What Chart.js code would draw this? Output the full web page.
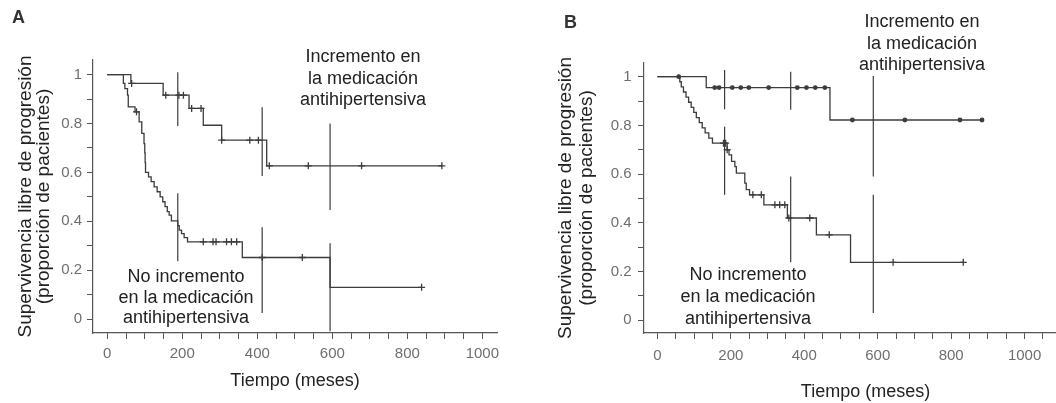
<!DOCTYPE html>
<html>
<head>
<meta charset="utf-8">
<script src="https://cdn.jsdelivr.net/npm/chart.js@4.4.1/dist/chart.umd.min.js"></script>
<style>
  body { margin: 0; width: 1056px; height: 403px; overflow: hidden; position: relative; background: #fff;
         font-family: "Liberation Sans", Arial, Helvetica, sans-serif; color: #222; }
  .panel { position: absolute; top: 0; height: 403px; }
  .lbl { position: absolute; font-weight: bold; font-size: 18px; line-height: 18px; color: #333; }
  .note { position: absolute; width: 220px; text-align: center; font-size: 18px; color: #222; }
</style>
</head>
<body>
<div class="panel" style="left:0;width:528px"><canvas id="chartA"></canvas></div>
<div class="panel" style="left:528px;width:570px"><canvas id="chartB"></canvas></div>

<div class="lbl" style="left:12px;top:8px">A</div>
<div class="lbl" style="left:564px;top:13px">B</div>
<div class="note" style="left:253px;top:46px;line-height:21.5px">Incremento en<br>la medicación<br>antihipertensiva</div>
<div class="note" style="left:76px;top:266px;line-height:20.5px">No incremento<br>en la medicación<br>antihipertensiva</div>
<div class="note" style="left:812px;top:11px;line-height:21.7px">Incremento en<br>la medicación<br>antihipertensiva</div>
<div class="note" style="left:638px;top:263px;line-height:22px">No incremento<br>en la medicación<br>antihipertensiva</div>

<script>
// tick labels shared by both panels
const xTickValues = [0, 200, 400, 600, 800, 1000]
const xTickLabels = ['0', '200', '400', '600', '800', '1000']
const yTickValues = [0, 0.2, 0.4, 0.6, 0.8, 1]
const yTickLabels = ['0', '0.2', '0.4', '0.6', '0.8', '1']

// Panel A - Incremento en la medicación (step times, survival after step, censored times)
const aIncTimes = [0, 63, 149, 218, 256, 305, 425, 892]
const aIncSurv = [1, 0.964, 0.916, 0.862, 0.793, 0.732, 0.627, 0.627]
const aIncCens = [65, 156, 191, 203, 225, 250, 305, 380, 403, 432, 536, 678, 892]

// Panel A - No incremento
const aNoTimes = [0, 43, 47, 54, 56, 74, 85, 92, 98, 100, 101, 102, 110, 117, 125, 133, 141, 148, 154, 160, 165, 171, 188, 192, 198, 205, 214, 360, 594, 838]
const aNoSurv = [1, 0.964, 0.943, 0.916, 0.868, 0.848, 0.807, 0.76, 0.718, 0.68, 0.64, 0.6, 0.582, 0.562, 0.541, 0.521, 0.5, 0.48, 0.46, 0.44, 0.425, 0.402, 0.382, 0.364, 0.35, 0.333, 0.316, 0.252, 0.13, 0.13]
const aNoCens = [78, 256, 282, 290, 318, 331, 345, 413, 520, 838]

// Panel A - vertical interval bars
const aBarTimes = [188, 413, 594]
const aBarIncLow = [0.79, 0.585, 0.446]
const aBarIncHigh = [1.01, 0.867, 0.8]
const aBarNoLow = [0.237, 0.025, -0.05]
const aBarNoHigh = [0.515, 0.376, 0.31]

// Panel B - Incremento
const bIncTimes = [0, 133, 470, 884]
const bIncSurv = [1, 0.955, 0.822, 0.822]
const bIncCens = [58, 156, 168, 204, 227, 249, 303, 381, 406, 430, 456, 531, 674, 824, 884]

// Panel B - No incremento
const bNoTimes = [0, 61, 65, 71, 78, 85, 92, 99, 106, 114, 122, 130, 140, 150, 190, 195, 202, 211, 215, 238, 242, 251, 290, 354, 433, 526, 835]
const bNoSurv = [1, 0.979, 0.958, 0.937, 0.916, 0.895, 0.874, 0.853, 0.832, 0.811, 0.79, 0.769, 0.748, 0.727, 0.7, 0.679, 0.652, 0.631, 0.604, 0.563, 0.536, 0.515, 0.474, 0.42, 0.351, 0.238, 0.238]
const bNoCens = [180, 186, 190, 260, 283, 320, 333, 347, 358, 415, 468, 642, 833]

// Panel B - vertical interval bars
const bBarTimes = [183, 363, 588]
const bBarIncLow = [0.866, 0.864, 0.59]
const bBarIncHigh = [1.027, 1.02, 1.003]
const bBarNoLow = [0.515, 0.238, 0.03]
const bBarNoHigh = [0.795, 0.59, 0.515]

const ink = '#3c3c3c'
Chart.defaults.font.family = '"Liberation Sans", Arial, Helvetica, sans-serif'

function steps(times, surv) {
  return times.map((t, i) => ({ x: t, y: surv[i] }))
}

function survAt(times, surv, t) {
  let s = surv[0]
  for (let i = 0; i < times.length; i++) {
    if (times[i] <= t) s = surv[i]
  }
  return s
}

function censored(times, surv, cens) {
  return cens.map(t => ({ x: t, y: survAt(times, surv, t) }))
}

function barSets(times, low, high) {
  return times.map((t, i) => ({
    data: [{ x: t, y: low[i] }, { x: t, y: high[i] }],
    borderColor: ink, borderWidth: 1.2, pointRadius: 0
  }))
}

function makeChart(id, p) {
  const datasets = [
    { data: steps(p.incTimes, p.incSurv), stepped: true, borderColor: ink, borderWidth: 1.3, pointRadius: 0 },
    { data: steps(p.noTimes, p.noSurv), stepped: true, borderColor: ink, borderWidth: 1.3, pointRadius: 0 },
    { data: censored(p.incTimes, p.incSurv, p.incCens), showLine: false, pointStyle: p.incMark, pointRadius: p.incMarkR,
      borderColor: ink, backgroundColor: ink, borderWidth: 1.3 },
    { data: censored(p.noTimes, p.noSurv, p.noCens), showLine: false, pointStyle: 'cross', pointRadius: 3.5,
      borderColor: ink, borderWidth: 1.3 }
  ].concat(barSets(p.barTimes, p.barIncLow, p.barIncHigh), barSets(p.barTimes, p.barNoLow, p.barNoHigh))

  return new Chart(document.getElementById(id), {
    type: 'line',
    data: { datasets: datasets },
    options: {
      responsive: true,
      maintainAspectRatio: false,
      animation: false,
      layout: { padding: p.padding },
      plugins: { legend: { display: false }, tooltip: { enabled: false } },
      scales: {
        x: {
          type: 'linear',
          min: p.xMin,
          max: p.xMax,
          afterFit: s => { s.height = 70 },
          border: { color: '#555', width: 1.2 },
          grid: { drawOnChartArea: false, tickLength: 6, tickColor: '#555' },
          ticks: {
            stepSize: 50, includeBounds: false, autoSkip: false, maxRotation: 0,
            padding: p.xTickPad, color: '#6e6e6e', font: { size: 15 },
            callback: v => {
              const i = xTickValues.indexOf(v)
              return i >= 0 ? xTickLabels[i] : ''
            }
          },
          title: {
            display: true, text: 'Tiempo (meses)', color: '#222',
            font: { size: 18 }, padding: { top: 0, bottom: p.xTitlePad }
          }
        },
        y: {
          type: 'linear',
          min: p.yMin,
          max: p.yMax,
          afterFit: s => { s.width = p.yWidth },
          border: { color: '#555', width: 1.2 },
          grid: { drawOnChartArea: false, tickLength: 6, tickColor: '#555' },
          ticks: {
            stepSize: 0.1, includeBounds: false, autoSkip: false,
            padding: p.yTickPad, color: '#6e6e6e', font: { size: 15 },
            callback: v => {
              const i = yTickValues.indexOf(Math.round(v * 10) / 10)
              return i >= 0 ? yTickLabels[i] : ''
            }
          },
          title: {
            display: true, text: ['Supervivencia libre de progresión', '(proporción de pacientes)'], color: '#222',
            font: { size: 19, lineHeight: p.yTitleLH }, padding: { top: p.yTitlePad, bottom: 0 }
          }
        }
      }
    }
  })
}

makeChart('chartA', {
  incTimes: aIncTimes, incSurv: aIncSurv, incCens: aIncCens, incMark: 'cross', incMarkR: 3.5,
  noTimes: aNoTimes, noSurv: aNoSurv, noCens: aNoCens,
  barTimes: aBarTimes, barIncLow: aBarIncLow, barIncHigh: aBarIncHigh, barNoLow: aBarNoLow, barNoHigh: aBarNoHigh,
  xMin: -38, xMax: 1039, yMin: -0.057, yMax: 1.06,
  padding: { top: 60, right: 31, bottom: 0, left: 0 },
  yWidth: 93, yTickPad: 5, yTitlePad: 17, yTitleLH: '18px',
  xTickPad: 6, xTitlePad: 11
})

// panel B runs past the right edge of the page, as in the cropped original
makeChart('chartB', {
  incTimes: bIncTimes, incSurv: bIncSurv, incCens: bIncCens, incMark: 'circle', incMarkR: 1.8,
  noTimes: bNoTimes, noSurv: bNoSurv, noCens: bNoCens,
  barTimes: bBarTimes, barIncLow: bBarIncLow, barIncHigh: bBarIncHigh, barNoLow: bBarNoLow, barNoHigh: bBarNoHigh,
  xMin: -36.5, xMax: 1170, yMin: -0.052, yMax: 1.056,
  padding: { top: 63, right: 11, bottom: 0, left: 0 },
  yWidth: 116, yTickPad: 6.5, yTitlePad: 27, yTitleLH: '21px',
  xTickPad: 7.5, xTitlePad: 0
})
</script>
</body>
</html>
